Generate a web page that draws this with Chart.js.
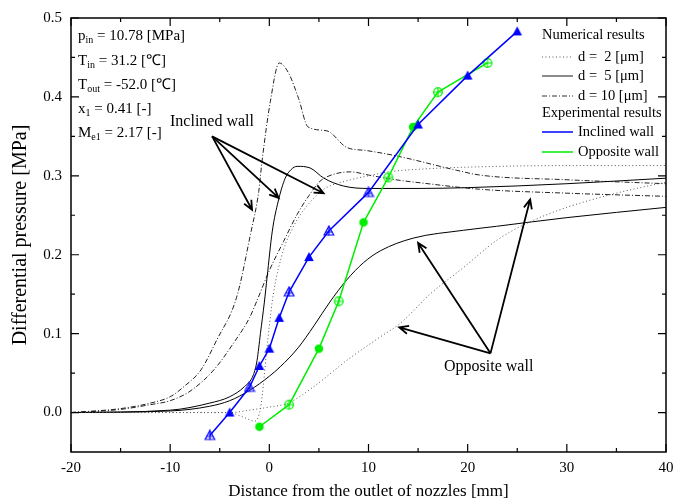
<!DOCTYPE html>
<html>
<head>
<meta charset="utf-8">
<script src="https://cdn.jsdelivr.net/npm/chart.js@4.4.1/dist/chart.umd.min.js"></script>
<style>
  html, body { margin: 0; padding: 0; background: #fff; }
  #wrap { width: 687px; height: 504px; }
</style>
</head>
<body>
<div id="wrap"><canvas id="chart" width="687" height="504"></canvas></div>
<script>
// Numerical results, inclined wall
const incD2X  = [-20, -10, -4, -3, -2, -1.5, -1.2, -0.9, -0.6, -0.3, 0, 0.4, 1.4, 2.4, 3.1, 4, 5.5, 8.2, 10, 12, 16, 20, 30, 40];
const incD2Y  = [0, 0, 0, -0.004, -0.009, -0.011, -0.008, 0.005, 0.035, 0.075, 0.11, 0.15, 0.205, 0.235, 0.25, 0.265, 0.283, 0.295, 0.3, 0.305, 0.309, 0.311, 0.313, 0.313];
const incD5X  = [-20, -10, -6, -4, -2.5, -1.6, -1.24, -0.9, -0.5, -0.23, 0.3, 0.9, 1.6, 2.2, 2.8, 4.1, 5.5, 7.5, 10, 15, 20, 30, 40];
const incD5Y  = [0, 0.003, 0.012, 0.02, 0.033, 0.048, 0.066, 0.1, 0.14, 0.171, 0.23, 0.268, 0.297, 0.308, 0.312, 0.31, 0.297, 0.287, 0.284, 0.284, 0.285, 0.29, 0.297];
const incD10X = [-20, -15, -12, -10, -8.6, -6.9, -5.3, -3.3, -1.9, -1.07, -0.74, 0.1, 1.0, 1.95, 2.95, 3.9, 5.8, 7.8, 9.8, 12.9, 18.9, 21.2, 30, 40];
const incD10Y = [0, 0.005, 0.012, 0.02, 0.033, 0.054, 0.092, 0.146, 0.226, 0.28, 0.318, 0.394, 0.443, 0.43, 0.398, 0.362, 0.357, 0.336, 0.332, 0.325, 0.307, 0.301, 0.295, 0.29];

// Numerical results, opposite wall
const oppD2X  = [-20, -10, -4, -2, 0, 1.9, 4.5, 7.8, 11.2, 13.2, 16.2, 19.6, 22.9, 26, 30, 35, 40];
const oppD2Y  = [0, 0, 0, 0.003, 0.007, 0.012, 0.033, 0.066, 0.096, 0.113, 0.15, 0.184, 0.218, 0.24, 0.26, 0.278, 0.292];
const oppD5X  = [-20, -10, -6, -4, -2, 0, 1.1, 2.9, 4.5, 6.1, 7.8, 9.5, 11.2, 14.5, 19.6, 22.9, 30, 40];
const oppD5Y  = [0, 0.002, 0.008, 0.015, 0.028, 0.046, 0.058, 0.082, 0.11, 0.14, 0.168, 0.19, 0.205, 0.221, 0.231, 0.236, 0.247, 0.26];
const oppD10X = [-20, -15, -12, -10, -8, -5.6, -3.5, -2, -1.24, 0, 1.44, 2.8, 4, 5.1, 6.5, 8.2, 10, 12.2, 16, 21.2, 30, 40];
const oppD10Y = [0, 0.004, 0.01, 0.015, 0.027, 0.054, 0.09, 0.12, 0.142, 0.18, 0.217, 0.251, 0.275, 0.293, 0.302, 0.305, 0.301, 0.296, 0.29, 0.283, 0.278, 0.274];

// Experimental results (1 = filled marker, 0 = open marker with cross)
const expIncX = [-6, -4, -2, -1, 0, 1, 2, 4, 6, 10, 15, 20, 25];
const expIncY = [-0.029, 0, 0.032, 0.059, 0.081, 0.12, 0.153, 0.197, 0.23, 0.279, 0.365, 0.427, 0.483];
const expIncFilled = [0, 1, 0, 1, 1, 1, 0, 1, 0, 0, 1, 1, 1];
const expOppX = [-1, 2, 5, 7, 9.5, 12, 14.5, 17, 22];
const expOppY = [-0.018, 0.01, 0.081, 0.141, 0.241, 0.298, 0.362, 0.406, 0.443];
const expOppFilled = [1, 0, 1, 0, 1, 0, 1, 0, 0];

const xTicks = [-20, -10, 0, 10, 20, 30, 40];
const yTicks = [0, 0.1, 0.2, 0.3, 0.4, 0.5];

const FONT = '"Liberation Serif", "Times New Roman", serif';
const BLUE = '#0000ff';
const GREEN = '#00ee00';
const DOT = [1, 2.5];
const DASHDOT = [5, 2, 1, 2];

function pts(xs, ys) {
    return xs.map((x, i) => ({ x: x, y: ys[i] }));
}

// small canvas markers
function marker(kind, color, filled) {
    const c = document.createElement('canvas');
    c.width = 12; c.height = 12;
    const g = c.getContext('2d');
    g.strokeStyle = color;
    g.fillStyle = color;
    g.lineWidth = 1.2;
    g.beginPath();
    if (kind === 'tri') {
        g.moveTo(6, 1); g.lineTo(10.8, 10); g.lineTo(1.2, 10); g.closePath();
    } else {
        g.arc(6, 6, 4.3, 0, Math.PI * 2);
    }
    if (filled) {
        g.fill();
    } else {
        g.stroke();
        g.beginPath();
        g.moveTo(6, kind === 'tri' ? 2 : 1.5); g.lineTo(6, 10.5);
        g.moveTo(kind === 'tri' ? 2.5 : 1.5, kind === 'tri' ? 7 : 6);
        g.lineTo(kind === 'tri' ? 9.5 : 10.5, kind === 'tri' ? 7 : 6);
        g.stroke();
    }
    return c;
}

const triFull = marker('tri', BLUE, true);
const triOpen = marker('tri', BLUE, false);
const cirFull = marker('cir', GREEN, true);
const cirOpen = marker('cir', GREEN, false);

function numLine(xs, ys, dash, color) {
    return {
        data: pts(xs, ys),
        borderColor: color,
        borderWidth: 1,
        borderDash: dash,
        pointRadius: 0,
        cubicInterpolationMode: 'monotone',
        fill: false
    };
}

const datasets = [
    {
        data: pts(expIncX, expIncY),
        borderColor: BLUE,
        borderWidth: 1.5,
        pointStyle: expIncFilled.map(f => f ? triFull : triOpen),
        pointRadius: 5,
        tension: 0
    },
    {
        data: pts(expOppX, expOppY),
        borderColor: GREEN,
        borderWidth: 1.5,
        pointStyle: expOppFilled.map(f => f ? cirFull : cirOpen),
        pointRadius: 5,
        tension: 0
    },
    numLine(incD2X, incD2Y, DOT, '#555'),
    numLine(incD5X, incD5Y, [], '#000'),
    numLine(incD10X, incD10Y, DASHDOT, '#222'),
    numLine(oppD2X, oppD2Y, DOT, '#555'),
    numLine(oppD5X, oppD5Y, [], '#000'),
    numLine(oppD10X, oppD10Y, DASHDOT, '#222')
];

// text with subscripts: parts = [[text, isSub], ...]
function richText(ctx, x, y, parts) {
    let cx = x;
    for (const [t, sub] of parts) {
        ctx.font = sub ? '10px ' + FONT : '15px ' + FONT;
        ctx.fillText(t, cx, sub ? y + 4 : y);
        cx += ctx.measureText(t).width;
    }
}

function arrow(ctx, x0, y0, x1, y1) {
    const a = Math.atan2(y1 - y0, x1 - x0);
    const h = 10, w = 0.42;
    ctx.beginPath();
    ctx.moveTo(x0, y0); ctx.lineTo(x1, y1);
    ctx.moveTo(x1 - h * Math.cos(a - w), y1 - h * Math.sin(a - w));
    ctx.lineTo(x1, y1);
    ctx.lineTo(x1 - h * Math.cos(a + w), y1 - h * Math.sin(a + w));
    ctx.stroke();
}

const decorPlugin = {
    id: 'decor',
    afterDraw(chart) {
        const ctx = chart.ctx;
        const xs = chart.scales.x, ys = chart.scales.y;
        const a = chart.chartArea;
        const X = v => xs.getPixelForValue(v);
        const Y = v => ys.getPixelForValue(v);
        ctx.save();

        // frame and inward ticks on all four sides
        ctx.strokeStyle = '#000';
        ctx.lineWidth = 1.5;
        ctx.strokeRect(a.left, a.top, a.right - a.left, a.bottom - a.top);
        ctx.lineWidth = 1.2;
        ctx.beginPath();
        for (let v = -20; v <= 40; v += 5) {
            const len = v % 10 === 0 ? 8 : 4;
            const px = X(v);
            ctx.moveTo(px, a.bottom); ctx.lineTo(px, a.bottom - len);
            ctx.moveTo(px, a.top); ctx.lineTo(px, a.top + len);
        }
        for (let i = 0; i <= 10; i++) {
            const v = i * 0.05;
            const len = i % 2 === 0 ? 8 : 4;
            const py = Y(v);
            ctx.moveTo(a.left, py); ctx.lineTo(a.left + len, py);
            ctx.moveTo(a.right, py); ctx.lineTo(a.right - len, py);
        }
        ctx.stroke();

        // axis titles
        ctx.fillStyle = '#000';
        ctx.font = '17px ' + FONT;
        ctx.textAlign = 'center';
        ctx.textBaseline = 'middle';
        ctx.fillText('Distance from the outlet of nozzles [mm]', (a.left + a.right) / 2, 492);
        ctx.save();
        ctx.translate(21, 235);
        ctx.rotate(-Math.PI / 2);
        ctx.font = '20px ' + FONT;
        ctx.fillText('Differential pressure [MPa]', 0, 0);
        ctx.restore();

        // condition text
        ctx.textAlign = 'left';
        ctx.textBaseline = 'middle';
        richText(ctx, 78, 36, [['p', false], ['in', true], [' = 10.78 [MPa]', false]]);
        richText(ctx, 78, 61, [['T', false], ['in', true], [' = 31.2 [\u2103]', false]]);
        richText(ctx, 78, 85, [['T', false], ['out', true], [' = -52.0 [\u2103]', false]]);
        richText(ctx, 78, 109, [['x', false], ['1', true], [' = 0.41 [-]', false]]);
        richText(ctx, 78, 133, [['M', false], ['e1', true], [' = 2.17 [-]', false]]);

        // annotations
        ctx.font = '16px ' + FONT;
        ctx.fillText('Inclined wall', 170, 122);
        ctx.fillText('Opposite wall', 444, 367);
        ctx.strokeStyle = '#000';
        ctx.lineWidth = 1.8;
        const io = [-5.77, 0.35];
        arrow(ctx, X(io[0]), Y(io[1]), X(-1.74), Y(0.257));
        arrow(ctx, X(io[0]), Y(io[1]), X(0.94), Y(0.272));
        arrow(ctx, X(io[0]), Y(io[1]), X(5.47), Y(0.278));
        const oo = [22.3, 0.075];
        arrow(ctx, X(oo[0]), Y(oo[1]), X(15.0), Y(0.215));
        arrow(ctx, X(oo[0]), Y(oo[1]), X(13.1), Y(0.108));
        arrow(ctx, X(oo[0]), Y(oo[1]), X(26.3), Y(0.27));

        // legend
        ctx.font = '14.5px ' + FONT;
        const lx = 542, tx = 578;
        ctx.fillText('Numerical results', lx, 35);
        ctx.fillText('Experimental results', lx, 113);
        const rows = [
            ['d =  2 [\u03bcm]', 57, '#555', DOT, 1],
            ['d =  5 [\u03bcm]', 76, '#666', [], 1.5],
            ['d = 10 [\u03bcm]', 96, '#333', DASHDOT, 1],
            ['Inclined wall', 132, BLUE, [], 1.5],
            ['Opposite wall', 152, GREEN, [], 1.5]
        ];
        for (const [label, y, col, dash, lw] of rows) {
            ctx.strokeStyle = col;
            ctx.lineWidth = lw;
            ctx.setLineDash(dash);
            ctx.beginPath();
            ctx.moveTo(lx, y); ctx.lineTo(lx + 31, y);
            ctx.stroke();
            ctx.setLineDash([]);
            ctx.fillStyle = '#000';
            ctx.fillText(label, tx, y);
        }
        ctx.restore();
    }
};

new Chart(document.getElementById('chart'), {
    type: 'line',
    data: { datasets: datasets },
    plugins: [decorPlugin],
    options: {
        responsive: false,
        animation: false,
        events: [],
        layout: { padding: { left: 0, right: 21, top: 16, bottom: 0 } },
        plugins: { legend: { display: false }, tooltip: { enabled: false } },
        scales: {
            x: {
                type: 'linear',
                min: -20,
                max: 40,
                grid: { display: false, drawTicks: false },
                border: { display: false },
                afterBuildTicks: s => { s.ticks = xTicks.map(v => ({ value: v })); },
                afterFit: s => { s.height = 52; },
                ticks: {
                    color: '#000',
                    padding: 7,
                    maxRotation: 0,
                    font: { family: FONT, size: 15 },
                    callback: v => String(v)
                }
            },
            y: {
                type: 'linear',
                min: -0.05,
                max: 0.5,
                grid: { display: false, drawTicks: false },
                border: { display: false },
                afterBuildTicks: s => { s.ticks = yTicks.map(v => ({ value: v })); },
                afterFit: s => { s.width = 71; },
                ticks: {
                    color: '#000',
                    padding: 9,
                    font: { family: FONT, size: 15 },
                    callback: v => v.toFixed(1)
                }
            }
        }
    }
});
</script>
</body>
</html>
